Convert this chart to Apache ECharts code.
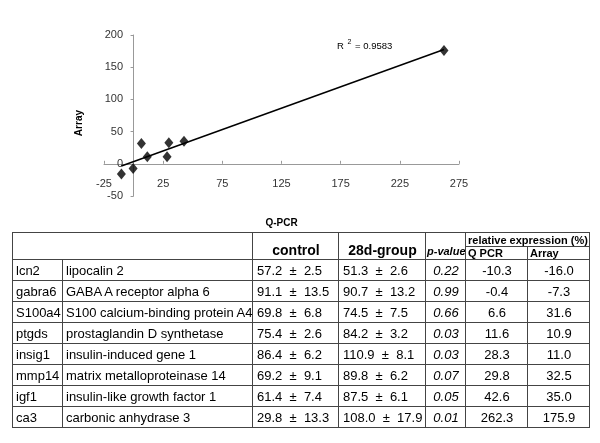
<!DOCTYPE html>
<html style="height: 100%">

<head>
  <meta charset="utf-8">
  <style>
    body { margin: 0; background: #fff; font-family: "Liberation Sans", Arial, sans-serif; }
    #container { position: absolute; left: 0; top: 0; width: 600px; height: 443px; }
    #tbl { position: absolute; left: 12px; top: 232px; width: 577px; border-collapse: collapse; table-layout: fixed;
      border: 1px solid #000; color: #000; }
    #tbl td { border: 1px solid #444; padding: 0 2px 0 3px; font-size: 13px; white-space: nowrap; overflow: hidden; }
    #tbl tr.d td { height: 20px; }
    #tbl td.v { padding-left: 4px; white-space: pre; }
    #tbl td.c { text-align: center; }
    #tbl td.it { font-style: italic; text-align: center; }
    #tbl td.h { font-weight: bold; text-align: center; vertical-align: bottom; font-size: 14px; padding-bottom: 1px; }
    #tbl td.hs { font-weight: bold; font-size: 11px; text-align: left; padding: 0 2px; }
    #tbl td.hp { font-weight: bold; font-style: italic; font-size: 11px; vertical-align: bottom; padding: 0 1px 2px 1px; }
  </style>
</head>

<body>
  <div id="container"></div>
  <table id="tbl">
    <colgroup>
      <col style="width: 50px"><col style="width: 190px"><col style="width: 86px"><col style="width: 87px">
      <col style="width: 40px"><col style="width: 62px"><col style="width: 62px">
    </colgroup>
    <tbody id="tbody"></tbody>
  </table>
  <script src="https://cdn.jsdelivr.net/npm/echarts@6/dist/echarts.min.js"></script>
  <script type="text/javascript">
  var genes = ['lcn2', 'gabra6', 'S100a4', 'ptgds', 'insig1', 'mmp14', 'igf1', 'ca3'];
  var geneNames = ['lipocalin 2', 'GABA A receptor alpha 6', 'S100 calcium-binding protein A4',
    'prostaglandin D synthetase', 'insulin-induced gene 1', 'matrix metalloproteinase 14',
    'insulin-like growth factor 1', 'carbonic anhydrase 3'];
  var controlMean = [57.2, 91.1, 69.8, 75.4, 86.4, 69.2, 61.4, 29.8];
  var controlSd = [2.5, 13.5, 6.8, 2.6, 6.2, 9.1, 7.4, 13.3];
  var groupMean = [51.3, 90.7, 74.5, 84.2, 110.9, 89.8, 87.5, 108.0];
  var groupSd = [2.6, 13.2, 7.5, 3.2, 8.1, 6.2, 6.1, 17.9];
  var pValues = ['0.22', '0.99', '0.66', '0.03', '0.03', '0.07', '0.05', '0.01'];
  var qpcr = [-10.3, -0.4, 6.6, 11.6, 28.3, 29.8, 42.6, 262.3];
  var arrayVals = [-16.0, -7.3, 31.6, 10.9, 11.0, 32.5, 35.0, 175.9];
  var r2Text = '0.9583';

  // table
  var html = '<tr style="height:14px"><td colspan="2" rowspan="2"></td>' +
    '<td class="h" rowspan="2">control</td><td class="h" rowspan="2">28d-group</td>' +
    '<td class="hp" rowspan="2">p-value</td><td class="hs" colspan="2">relative expression (%)</td></tr>' +
    '<tr style="height:13px"><td class="hs">Q PCR</td><td class="hs">Array</td></tr>';
  for (var i = 0; i < genes.length; i++) {
    html += '<tr class="d"><td>' + genes[i] + '</td><td>' + geneNames[i] + '</td>' +
      '<td class="v">' + controlMean[i].toFixed(1) + '  ±  ' + controlSd[i].toFixed(1) + '</td>' +
      '<td class="v">' + groupMean[i].toFixed(1) + '  ±  ' + groupSd[i].toFixed(1) + '</td>' +
      '<td class="it">' + pValues[i] + '</td>' +
      '<td class="c">' + qpcr[i].toFixed(1) + '</td><td class="c">' + arrayVals[i].toFixed(1) + '</td></tr>';
  }
  document.getElementById('tbody').innerHTML = html;

  // linear trend line from the points
  var n = qpcr.length, sx = 0, sy = 0, sxy = 0, sxx = 0;
  for (var k = 0; k < n; k++) {
    sx += qpcr[k]; sy += arrayVals[k]; sxy += qpcr[k] * arrayVals[k]; sxx += qpcr[k] * qpcr[k];
  }
  var slope = (n * sxy - sx * sy) / (n * sxx - sx * sx);
  var icpt = (sy - slope * sx) / n;
  var xMin = Math.min.apply(null, qpcr), xMax = Math.max.apply(null, qpcr);

  var points = qpcr.map(function (x, i) { return [x, arrayVals[i]]; });

  var myChart = echarts.init(document.getElementById('container'));
  var axisFont = { fontFamily: 'Liberation Sans', fontSize: 11, color: '#333' };
  var option = {
    animation: false,
    grid: { left: 104, top: 35, width: 355, height: 161 },
    xAxis: {
      type: 'value', min: -25, max: 275, interval: 50,
      name: 'Q-PCR', nameLocation: 'middle', nameGap: 22,
      nameTextStyle: { fontFamily: 'Liberation Sans', fontSize: 10, fontWeight: 'bold', color: '#000' },
      axisLine: { onZero: true, lineStyle: { color: '#999', width: 1 } },
      axisTick: { show: true, inside: true, length: 3, lineStyle: { color: '#999' } },
      axisLabel: Object.assign({ margin: -18 }, axisFont),
      splitLine: { show: false }
    },
    yAxis: {
      type: 'value', min: -50, max: 200, interval: 50,
      axisLine: { show: true, onZero: true, lineStyle: { color: '#999', width: 1 } },
      axisTick: { show: true, length: 3, lineStyle: { color: '#999' } },
      axisLabel: Object.assign({ margin: -19 }, axisFont),
      splitLine: { show: false }
    },
    graphic: [
      { type: 'text', left: 74, top: 110, rotation: Math.PI / 2,
        style: { text: 'Array', font: 'bold 10px "Liberation Sans"', fill: '#000' } },
      { type: 'text', left: 337, top: 39,
        style: { text: '{n|R }{s|2}{n| = ' + r2Text + '}',
          rich: { n: { fontFamily: 'Liberation Sans', fontSize: 9.5, color: '#222', padding: [4, 0, 0, 0] },
                  s: { fontFamily: 'Liberation Sans', fontSize: 7, color: '#222', padding: [0, 1, 4, 1] } } } }
    ],
    series: [
      {
        type: 'line', data: [[xMin, icpt + slope * xMin], [xMax, icpt + slope * xMax]],
        symbol: 'none', lineStyle: { color: '#000', width: 1.5 }, z: 2
      },
      {
        type: 'scatter', data: points, symbol: 'diamond', symbolSize: [9, 11],
        itemStyle: { color: '#000' }, z: 3
      }
    ]
  };
  myChart.setOption(option);
  </script>
</body>

</html>
